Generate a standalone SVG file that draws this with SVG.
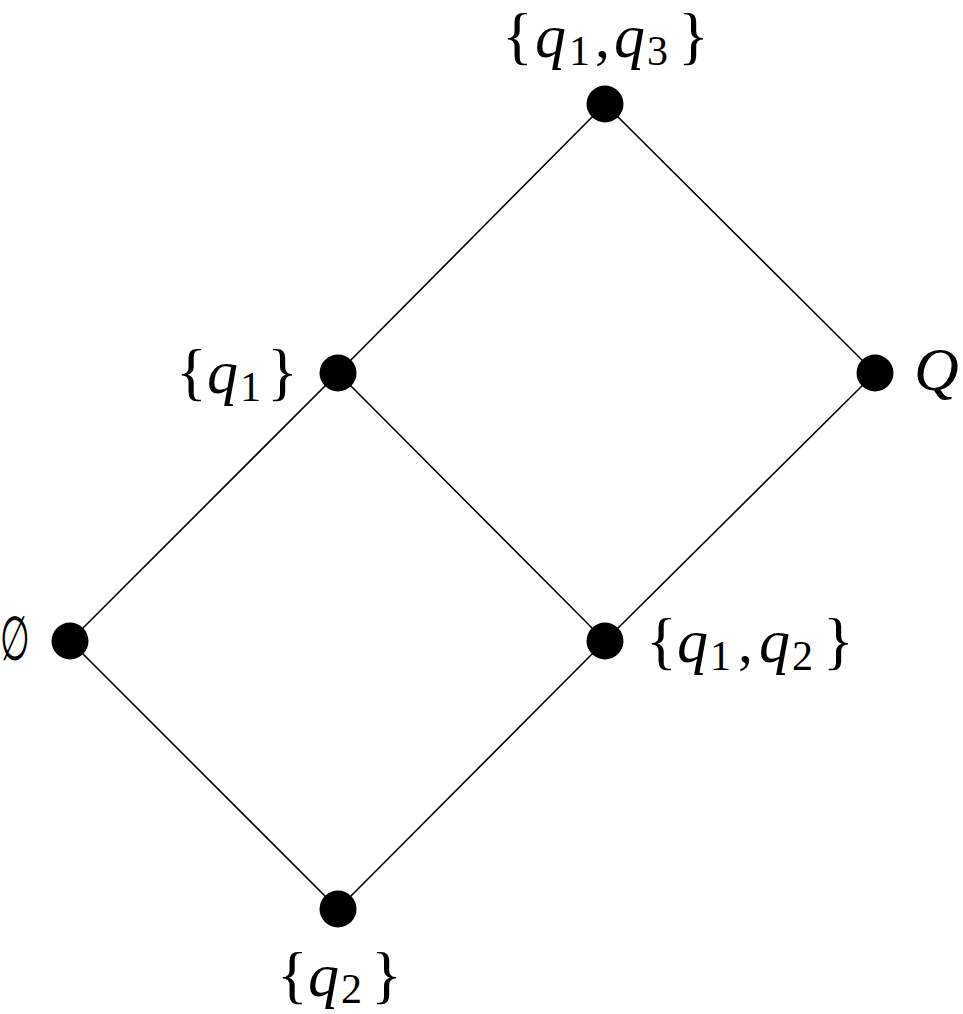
<svg xmlns="http://www.w3.org/2000/svg" width="963" height="1014" viewBox="0 0 963 1014">
<style>
.e{stroke:#000;stroke-width:1.6;fill:none}
.n{fill:#000}
text{font-family:"Liberation Serif","DejaVu Serif",serif;font-size:60px;fill:#000}
.b{font-size:64px;font-style:normal}
.i{font-style:italic;font-size:62px}
.s{font-size:42px}
</style>
<rect width="963" height="1014" fill="#fff"/>
<g id="connectors">
<line class="e" x1="605" y1="104" x2="338" y2="373"/>
<line class="e" x1="605" y1="104" x2="875" y2="373"/>
<line class="e" x1="338" y1="373" x2="70" y2="641"/>
<line class="e" x1="338" y1="373" x2="605" y2="641"/>
<line class="e" x1="875" y1="373" x2="605" y2="641"/>
<line class="e" x1="70" y1="641" x2="338" y2="909"/>
<line class="e" x1="605" y1="641" x2="338" y2="909"/>
</g>
<g id="n13"><circle class="n" cx="605" cy="104" r="18.5"/>
<text y="57"><tspan class="b" x="502">{</tspan><tspan class="i" x="535">q</tspan><tspan class="s" x="569" dy="8">1</tspan><tspan x="595" dy="-8">,</tspan><tspan class="i" x="614">q</tspan><tspan class="s" x="647" dy="8">3</tspan><tspan class="b" x="678" dy="-8">}</tspan></text></g>
<g id="n1"><circle class="n" cx="338" cy="373" r="18.5"/>
<text y="393"><tspan class="b" x="176">{</tspan><tspan class="i" x="207">q</tspan><tspan class="s" x="240" dy="8">1</tspan><tspan class="b" x="267" dy="-8">}</tspan></text></g>
<g id="nQ"><circle class="n" cx="875" cy="373" r="18.5"/>
<text x="914" y="390" class="i" style="font-size:62px">Q</text></g>
<g id="nE"><circle class="n" cx="70" cy="641" r="18.5"/>
<text transform="translate(0 660) scale(0.55 1)" x="0" y="0" style="font-size:62px">∅</text></g>
<g id="n12"><circle class="n" cx="605" cy="641" r="18.5"/>
<text y="662"><tspan class="b" x="646">{</tspan><tspan class="i" x="677">q</tspan><tspan class="s" x="710" dy="8">1</tspan><tspan x="738" dy="-8">,</tspan><tspan class="i" x="759">q</tspan><tspan class="s" x="792" dy="8">2</tspan><tspan class="b" x="823" dy="-8">}</tspan></text></g>
<g id="n2"><circle class="n" cx="338" cy="909" r="18.5"/>
<text y="996"><tspan class="b" x="277">{</tspan><tspan class="i" x="308">q</tspan><tspan class="s" x="341" dy="7">2</tspan><tspan class="b" x="371" dy="-7">}</tspan></text></g>
</svg>
